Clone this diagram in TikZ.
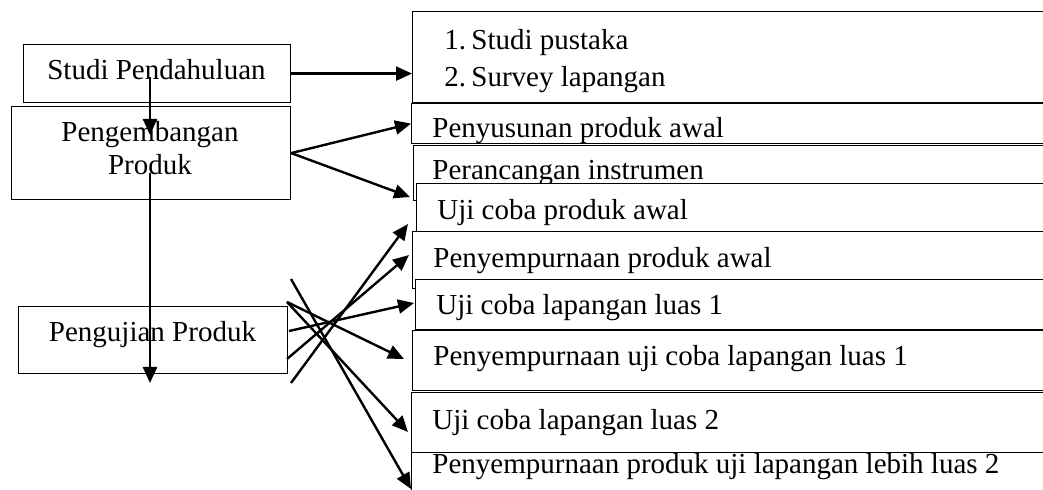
\documentclass[tikz,border=0pt]{standalone}
\usepackage{fontspec}
\setmainfont{Liberation Serif}
\usetikzlibrary{arrows.meta}
\tikzset{
  rbox/.style={draw=black, fill=white, line width=0.6pt, inner sep=0pt, anchor=north west},
  lbl/.style={anchor=base west, inner sep=0pt, font=\fontsize{14.5}{17}\selectfont},
  clbl/.style={anchor=base, inner sep=0pt, font=\fontsize{14.5}{17}\selectfont},
  arr/.style={line width=1.2pt, -{Triangle[length=8pt,width=7pt]}}
}
\begin{document}
\begin{tikzpicture}[x=0.5pt,y=-0.5pt]
\useasboundingbox (0,0) rectangle (1043,490);
\clip (0,0) rectangle (1043,490);
% left boxes
\node[rbox, minimum width=133.5pt, minimum height=29pt] (sp) at (23,44) {};
\node[clbl] (spt) at (156.5,80) {Studi Pendahuluan};
\node[rbox, minimum width=139.5pt, minimum height=46.5pt] (pb) at (11,106) {};
\node[clbl] (pbt1) at (150,142) {Pengembangan};
\node[clbl] (pbt2) at (150,175) {Produk};
\node[rbox, minimum width=134.5pt, minimum height=33.5pt] (pu) at (18,306) {};
\node[clbl] (put) at (152.5,342) {Pengujian Produk};
% right boxes
\node[rbox, minimum width=324pt, minimum height=45.5pt] (bA) at (412,11) {};
\node[lbl] (bAn1) at (444,50) {1.};
\node[lbl] (bAt1) at (471,50) {Studi pustaka};
\node[lbl] (bAn2) at (444,87) {2.};
\node[lbl] (bAt2) at (471,87) {Survey lapangan};
\node[rbox, minimum width=324.5pt, minimum height=20pt] (b1) at (411,103) {};
\node[lbl] (b1t) at (432,138) {Penyusunan produk awal};
\node[rbox, minimum width=323.5pt, minimum height=27.5pt] (b2) at (413,145) {};
\node[lbl] (b2t) at (432,180) {Perancangan instrumen};
\node[rbox, minimum width=322pt, minimum height=24pt] (b3) at (416,183) {};
\node[lbl] (b3t) at (437,220) {Uji coba produk awal};
\node[rbox, minimum width=324pt, minimum height=28.5pt] (b4) at (412,231) {};
\node[lbl] (b4t) at (433,268) {Penyempurnaan produk awal};
\node[rbox, minimum width=322.5pt, minimum height=25pt] (b5) at (415,279) {};
\node[lbl] (b5t) at (436,315) {Uji coba lapangan luas 1};
\node[rbox, minimum width=324pt, minimum height=30pt] (b6) at (412,330) {};
\node[lbl] (b6t) at (433,366) {Penyempurnaan uji coba lapangan luas 1};
\node[rbox, minimum width=324.5pt, minimum height=30pt] (b7) at (411,392) {};
\node[lbl] (b7t) at (432,430) {Uji coba lapangan luas 2};
\node[rbox, minimum width=324.5pt, minimum height=24pt] (b8) at (411,452) {};
\node[lbl] (b8t) at (432,474) {Penyempurnaan produk uji lapangan lebih luas 2};
% free ends
\coordinate (v1s) at (150,77);
\coordinate (v1e) at (150,135);
\coordinate (v2s) at (150,173);
\coordinate (v2e) at (150,383);
\coordinate (t2) at (410,197);
\coordinate (p1s) at (289,331); \coordinate (p1e) at (414,303);
\coordinate (p2s) at (287,359); \coordinate (p2e) at (409,255);
\coordinate (p3s) at (291,383); \coordinate (p3e) at (408,224);
\coordinate (p4s) at (287,302); \coordinate (p4e) at (404,359);
\coordinate (p5e) at (408,432);
\coordinate (p6s) at (291,279); \coordinate (p6e) at (411,489);
% connectors
\draw[arr] (sp.east) -- (sp.east -| bA.west);
\draw[arr] (v1s) -- (v1e);
\draw[arr] (v2s) -- (v2e);
\draw[arr] (pb.east) -- (b1.west);
\draw[arr] (pb.east) -- (t2);
\draw[arr] (p1s) -- (p1e);
\draw[arr] (p2s) -- (p2e);
\draw[arr] (p3s) -- (p3e);
\draw[arr] (p4s) -- (p4e);
\draw[arr] (p4s) -- (p5e);
\draw[arr] (p6s) -- (p6e);
\end{tikzpicture}
\end{document}
